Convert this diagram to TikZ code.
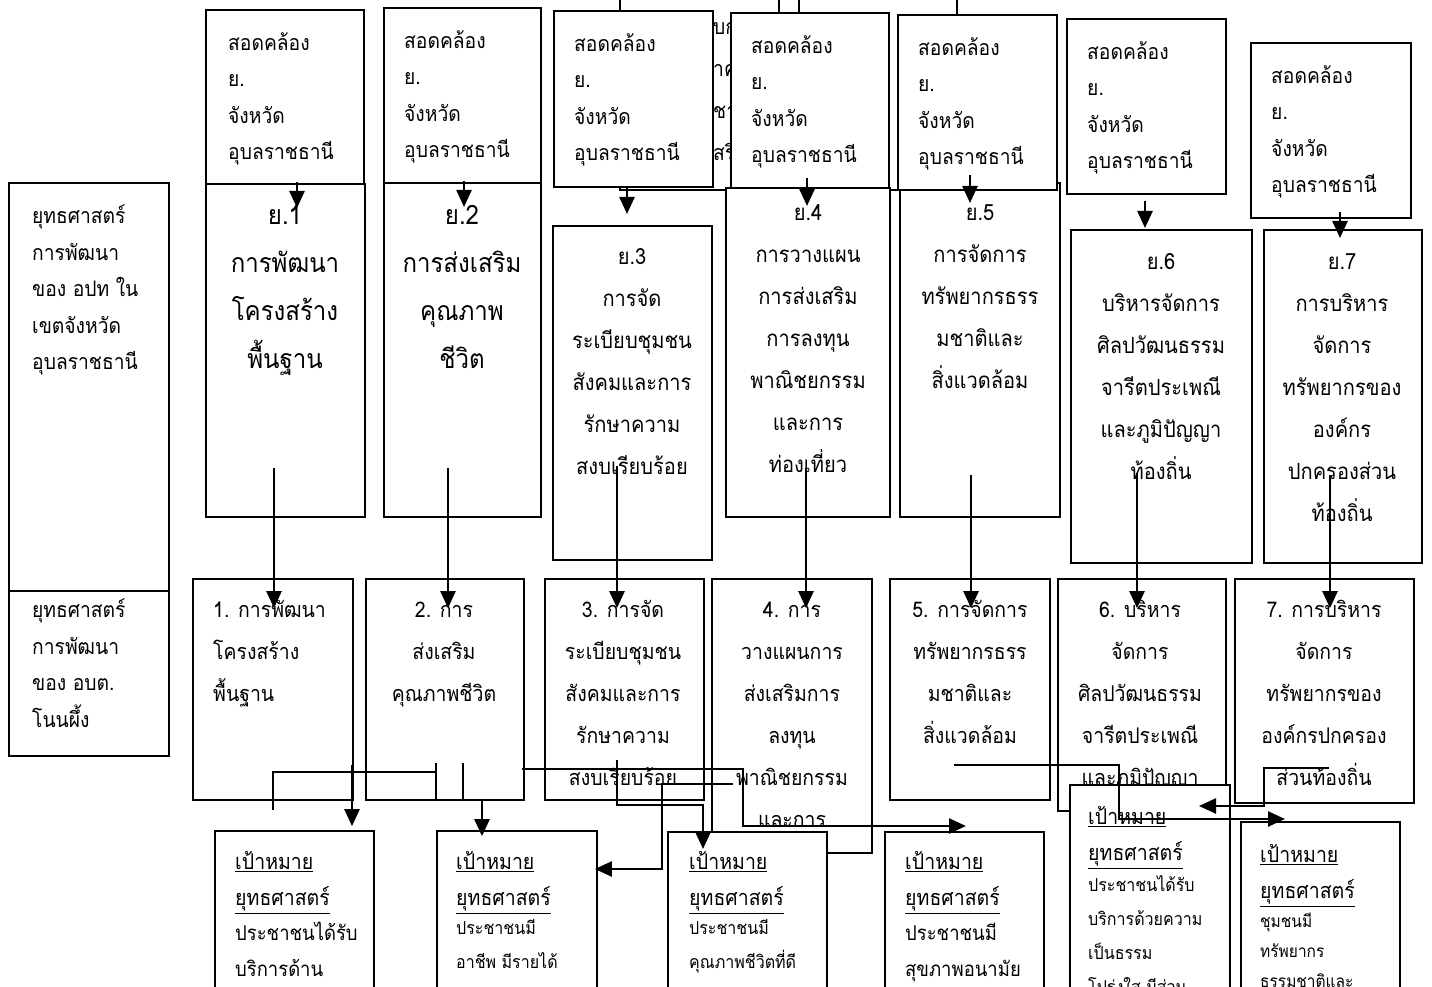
\documentclass[tikz,border=0pt]{standalone}
\usepackage{fontspec}
\setmainfont[Script=Thai,FakeStretch=0.9]{Loma}
\usetikzlibrary{arrows.meta}
\newcommand{\up}{\rule{0pt}{26pt}}

\begin{document}
\begin{tikzpicture}[x=1pt,y=-1pt,
    box/.style={draw,line width=1.7pt,fill=white,inner sep=0pt},
    edge/.style={line width=1.7pt},
    wire/.style={line width=2.5pt},
    arr/.style={line width=2.5pt,-{Triangle[length=17pt,width=15pt]}},
    tA/.style={inner sep=0pt,font=\fontsize{21.4}{36.5}\selectfont,align=left,anchor=north west},
    tBig/.style={inner sep=0pt,font=\fontsize{26.7}{48}\selectfont,align=center,anchor=north},
    tB/.style={inner sep=0pt,font=\fontsize{22.3}{42}\selectfont,align=center,anchor=north},
    tC/.style={inner sep=0pt,font=\fontsize{21.6}{42}\selectfont,align=center,anchor=north},
    tH/.style={inner sep=0pt,font=\fontsize{21.7}{36}\selectfont,align=left,anchor=north west},
    tS/.style={inner sep=0pt,font=\fontsize{17.8}{34}\selectfont,align=left,anchor=north west}]
    \useasboundingbox (0,0) rectangle (1432,987);
    \clip (0,0) rectangle (1432,987);

    % box hidden behind the top row
    \node[box,minimum width=337,minimum height=220] (hid) at (788.5,80) {};
    \node[tA,font=\fontsize{21.4}{42}\selectfont] (hidt) at (713,8.5) {\up บก\\าค\\ชา\\สริ};
    \coordinate (t1) at (779,0);
    \coordinate (t2) at (799,0);

    % strategies of the province
    \node[box,minimum width=159,minimum height=333] (b1) at (285.5,350.5) {};
    \node[box,minimum width=157,minimum height=334] (b2) at (462.5,350) {};
    \node[box,minimum width=159,minimum height=334] (b3) at (632.5,393) {};
    \node[box,minimum width=164,minimum height=329] (b4) at (808,352.5) {};
    \node[box,minimum width=160,minimum height=334] (b5) at (980,350) {};
    \node[box,minimum width=181,minimum height=333] (b6) at (1161.5,396.5) {};
    \node[box,minimum width=158,minimum height=333] (b7) at (1343,396.5) {};
    \node[tBig] (b1t) at (285,198) {\up ย.1\\การพัฒนา\\โครงสร้าง\\พื้นฐาน};
    \node[tBig] (b2t) at (462,198) {\up ย.2\\การส่งเสริม\\คุณภาพ\\ชีวิต};
    \node[tB] (b3t) at (632,238.5) {\up ย.3\\การจัด\\ระเบียบชุมชน\\สังคมและการ\\รักษาความ\\สงบเรียบร้อย};
    \node[tB] (b4t) at (808,194.5) {\up ย.4\\การวางแผน\\การส่งเสริม\\การลงทุน\\พาณิชยกรรม\\และการ\\ท่องเที่ยว};
    \node[tB] (b5t) at (980,194.5) {\up ย.5\\การจัดการ\\ทรัพยากรธรร\\มชาติและ\\สิ่งแวดล้อม};
    \node[tB] (b6t) at (1161,243.5) {\up ย.6\\บริหารจัดการ\\ศิลปวัฒนธรรม\\จารีตประเพณี\\และภูมิปัญญา\\ท้องถิ่น};
    \node[tB] (b7t) at (1342,243.5) {\up ย.7\\การบริหาร\\จัดการ\\ทรัพยากรของ\\องค์กร\\ปกครองส่วน\\ท้องถิ่น};

    % agreement boxes
    \node[box,minimum width=158,minimum height=174] (a1) at (285,97) {};
    \node[box,minimum width=157,minimum height=175] (a2) at (462.5,95.5) {};
    \node[box,minimum width=159,minimum height=176] (a3) at (633.5,99) {};
    \node[box,minimum width=158,minimum height=175] (a4) at (810,100.5) {};
    \node[box,minimum width=159,minimum height=175] (a5) at (977.5,102.5) {};
    \node[box,minimum width=159,minimum height=175] (a6) at (1146.5,106.5) {};
    \node[box,minimum width=160,minimum height=175] (a7) at (1331,130.5) {};
    \node[tA] (a1t) at (228,24) {\up สอดคล้อง\\ย.\\จังหวัด\\อุบลราชธานี};
    \node[tA] (a2t) at (404,22) {\up สอดคล้อง\\ย.\\จังหวัด\\อุบลราชธานี};
    \node[tA] (a3t) at (574,25) {\up สอดคล้อง\\ย.\\จังหวัด\\อุบลราชธานี};
    \node[tA] (a4t) at (751,27) {\up สอดคล้อง\\ย.\\จังหวัด\\อุบลราชธานี};
    \node[tA] (a5t) at (918,29) {\up สอดคล้อง\\ย.\\จังหวัด\\อุบลราชธานี};
    \node[tA] (a6t) at (1087,33) {\up สอดคล้อง\\ย.\\จังหวัด\\อุบลราชธานี};
    \node[tA] (a7t) at (1271,57) {\up สอดคล้อง\\ย.\\จังหวัด\\อุบลราชธานี};

    % left column
    \node[box,minimum width=160,minimum height=408] (l1) at (89,387) {};
    \node[box,minimum width=160,minimum height=165] (l2) at (89,673.5) {};
    \node[tA] (l1t) at (32,197.5) {\up ยุทธศาสตร์\\การพัฒนา\\ของ อปท ใน\\เขตจังหวัด\\อุบลราชธานี};
    \node[tA] (l2t) at (32,591.5) {\up ยุทธศาสตร์\\การพัฒนา\\ของ อบต.\\โนนผึ้ง};

    % strategies of the subdistrict
    \node[box,minimum width=160,minimum height=221] (c1) at (273,689.5) {};
    \node[box,minimum width=158,minimum height=221] (c2) at (445,689.5) {};
    \node[box,minimum width=159,minimum height=221] (c3) at (624.5,689.5) {};
    \node[box,minimum width=160,minimum height=274] (c4) at (792,716) {};
    \node[box,minimum width=160,minimum height=221] (c5) at (970,689.5) {};
    \node[box,minimum width=168,minimum height=232] (c6) at (1142,695) {};
    \node[box,minimum width=179,minimum height=224] (c7) at (1324.5,691) {};
    \node[tC,anchor=north west,align=left] (c1t) at (213,591.3) {\up 1. การพัฒนา\\โครงสร้าง\\พื้นฐาน};
    \node[tC] (c2t) at (444,591.3) {\up 2. การ\\ส่งเสริม\\คุณภาพชีวิต};
    \node[tC] (c3t) at (623,591.3) {\up 3. การจัด\\ระเบียบชุมชน\\สังคมและการ\\รักษาความ\\สงบเรียบร้อย};
    \node[tC] (c4t) at (792,591.3) {\up 4. การ\\วางแผนการ\\ส่งเสริมการ\\ลงทุน\\พาณิชยกรรม\\และการ};
    \node[tC] (c5t) at (970,591.3) {\up 5. การจัดการ\\ทรัพยากรธรร\\มชาติและ\\สิ่งแวดล้อม};
    \node[tC] (c6t) at (1140,591.3) {\up 6. บริหาร\\จัดการ\\ศิลปวัฒนธรรม\\จารีตประเพณี\\และภูมิปัญญา};
    \node[tC] (c7t) at (1324,591.3) {\up 7. การบริหาร\\จัดการ\\ทรัพยากรของ\\องค์กรปกครอง\\ส่วนท้องถิ่น};

    % strategic goals
    \node[box,minimum width=159,minimum height=179] (d1) at (294.5,920.5) {};
    \node[box,minimum width=160,minimum height=179] (d2) at (517,920.5) {};
    \node[box,minimum width=159,minimum height=178] (d3) at (747.5,921) {};
    \node[box,minimum width=159,minimum height=178] (d4) at (964.5,921) {};
    \node[box,minimum width=160,minimum height=225] (d5) at (1150,897.5) {};
    \node[box,minimum width=159,minimum height=188] (d6) at (1320.5,916) {};
    \node[tH] (d1h) at (235,843.5) {\up\underline{เป้าหมาย}\\\underline{ยุทธศาสตร์}};
    \node[tH] (d2h) at (456,843.5) {\up\underline{เป้าหมาย}\\\underline{ยุทธศาสตร์}};
    \node[tH] (d3h) at (689,843.5) {\up\underline{เป้าหมาย}\\\underline{ยุทธศาสตร์}};
    \node[tH] (d4h) at (905,843.5) {\up\underline{เป้าหมาย}\\\underline{ยุทธศาสตร์}};
    \node[tH] (d5h) at (1088,798.5) {\up\underline{เป้าหมาย}\\\underline{ยุทธศาสตร์}};
    \node[tH] (d6h) at (1260,836.5) {\up\underline{เป้าหมาย}\\\underline{ยุทธศาสตร์}};
    \node[tH,font=\fontsize{20.5}{36}\selectfont] (d1b) at (235,914) {\up ประชาชนได้รับ\\บริการด้าน};
    \node[tS] (d2b) at (456,908) {\up ประชาชนมี\\อาชีพ มีรายได้};
    \node[tS] (d3b) at (689,908) {\up ประชาชนมี\\คุณภาพชีวิตที่ดี};
    \node[tH,font=\fontsize{20.5}{36}\selectfont] (d4b) at (905,914) {\up ประชาชนมี\\สุขภาพอนามัย};
    \node[tS] (d5b) at (1088,865) {\up ประชาชนได้รับ\\บริการด้วยความ\\เป็นธรรม\\โปร่งใส มีส่วน};
    \node[tS,font=\fontsize{17.2}{30}\selectfont] (d6b) at (1260,901.5) {\up ชุมชนมี\\ทรัพยากร\\ธรรมชาติและ};

    % lines coming from above the page
    \draw[edge] (t1) -- (t1 |- a4.north);
    \draw[edge] (t2) -- (t2 |- a4.north);

    % agreement -> province strategy
    \coordinate (ab1) at (297,182);  \coordinate (ae1) at (297,208);
    \coordinate (ab2) at (464,181);  \coordinate (ae2) at (464,207);
    \coordinate (ab3) at (627,187);  \coordinate (ae3) at (627,214);
    \coordinate (ab4) at (807,178);  \coordinate (ae4) at (807,206);
    \coordinate (ab5) at (970,175);  \coordinate (ae5) at (970,203);
    \coordinate (ab6) at (1145,201); \coordinate (ae6) at (1145,228);
    \coordinate (ab7) at (1340,212); \coordinate (ae7) at (1340,238);
    \foreach \i in {1,...,7}
        \draw[arr] (ab\i) -- (ae\i);

    % province strategy -> subdistrict strategy
    \coordinate (bc1) at (274,468);
    \coordinate (bc2) at (448,468);
    \coordinate (bc3) at (617,466);
    \coordinate (bc4) at (806,468);
    \coordinate (bc5) at (971,475);
    \coordinate (bc6) at (1137,473);
    \coordinate (bc7) at (1330,475);
    \foreach \i in {1,...,7}
        \draw[arr,shorten >=-30pt] (bc\i) -- (bc\i |- c\i.north);

    % subdistrict strategy -> goals
    \coordinate (k1) at (352,765);
    \draw[arr,shorten >=4pt] (k1) -- (k1 |- d1.north);
    \coordinate (k2a) at (273,810);
    \coordinate (k2b) at (436,772);
    \coordinate (k2c) at (436,763);
    \coordinate (k2d) at (436,800);
    \draw[wire] (k2a) |- (k2b);
    \draw[wire] (k2c) -- (k2d);
    \coordinate (k3a) at (463,763);
    \coordinate (k3b) at (482,800);
    \draw[arr,shorten >=-6pt] (k3a) |- (k3b) -- (k3b |- d2.north);
    \coordinate (k4a) at (522,769);
    \coordinate (k4b) at (743,826);
    \coordinate (k4c) at (966,826);
    \draw[arr] (k4a) -| (k4b) -- (k4c);
    \coordinate (k5a) at (617,760);
    \coordinate (k5b) at (703,805);
    \coordinate (k5c) at (703,849);
    \draw[arr] (k5a) |- (k5b) -- (k5c);
    \coordinate (k6a) at (733,784);
    \coordinate (k6b) at (662,869);
    \draw[arr,shorten >=-3pt] (k6a) -| (k6b) -- (k6b -| d2.east);
    \coordinate (k7a) at (954,765);
    \coordinate (k7b) at (1119,819);
    \coordinate (k7c) at (1285,819);
    \draw[arr] (k7a) -| (k7b) -- (k7c);
    \coordinate (k8a) at (1329,768);
    \coordinate (k8b) at (1264,806);
    \coordinate (k8c) at (1199,806);
    \draw[arr] (k8a) -| (k8b) -- (k8c);
\end{tikzpicture}
\end{document}
